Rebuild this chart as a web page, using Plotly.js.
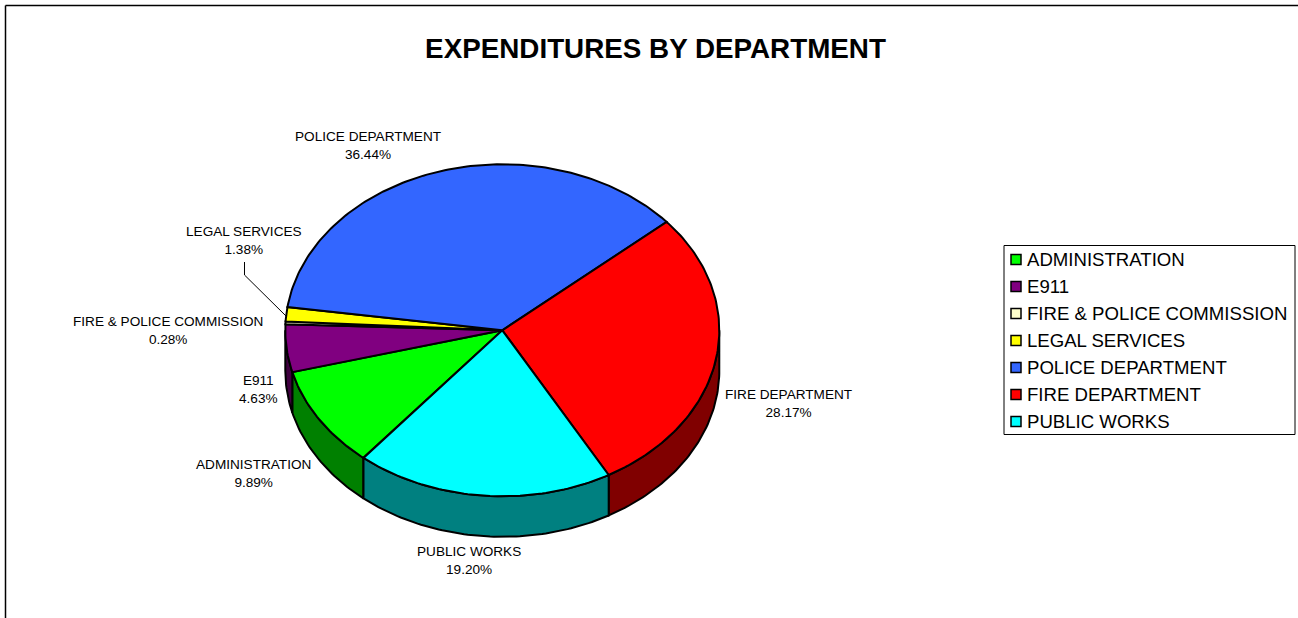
<!DOCTYPE html>
<html>
<head>
<meta charset="utf-8">
<script src="https://cdn.plot.ly/plotly-3.0.1.min.js"></script>
<style>html,body{margin:0;padding:0;background:#fff}</style>
</head>
<body>
<div id="chart" style="width:1298px;height:618px"></div>
<script>
// Data
const categories = ["ADMINISTRATION","E911","FIRE & POLICE COMMISSION","LEGAL SERVICES","POLICE DEPARTMENT","FIRE DEPARTMENT","PUBLIC WORKS"];
const shares = [9.89,4.63,0.28,1.38,36.44,28.17,19.20];
const topColors = ["#00FF00","#800080","#FFFFCC","#FFFF00","#3366FF","#FF0000","#00FFFF"];
const sideColors = ["#008000","#400040","#808066","#808000","#1A3380","#800000","#008080"];
const labelX = [253,258,168,244,367.5,788.5,468.5];
const labelY = [473.5,389.5,330.5,240.5,145.5,403.5,560.5];

// Projection of the tilted pie onto the page (axes run in page units)
const cx = 502.3, cy = 330.3, rx = 217, ry = 166, depth = 40.5, startDeg = 219.8;
const px = a => cx + rx * Math.sin(a * Math.PI / 180);
const py = a => cy - ry * Math.cos(a * Math.PI / 180);

function arc(a0, a1) {
  const n = Math.max(2, Math.ceil(Math.abs(a1 - a0)));
  const out = [];
  for (let i = 0; i <= n; i++) out.push(a0 + (a1 - a0) * i / n);
  return out;
}

const traces = [];
let a = startDeg;
const spans = shares.map(s => { const r = [a, a + s * 3.6]; a = r[1]; return r; });

// Side walls: only the part of the rim that faces the viewer (90..270 deg, mod 360)
spans.forEach((sp, i) => {
  [[90, 270], [450, 630]].forEach(win => {
    const s = Math.max(sp[0], win[0]), e = Math.min(sp[1], win[1]);
    if (e <= s) return;
    const t = arc(s, e);
    const xs = t.map(px).concat(t.slice().reverse().map(px));
    const ys = t.map(py).concat(t.slice().reverse().map(v => py(v) + depth));
    xs.push(xs[0]); ys.push(ys[0]);
    traces.push({type:"scatter", mode:"lines", x:xs, y:ys, fill:"toself", fillcolor:sideColors[i],
      line:{color:"#000", width:2}, showlegend:false, hoverinfo:"skip"});
  });
});

// Top faces
spans.forEach((sp, i) => {
  const t = arc(sp[0], sp[1]);
  const xs = [cx].concat(t.map(px), [cx]);
  const ys = [cy].concat(t.map(py), [cy]);
  traces.push({type:"scatter", mode:"lines", x:xs, y:ys, fill:"toself", fillcolor:topColors[i],
    line:{color:"#000", width:2}, name:categories[i], showlegend:false,
    hoverinfo:"text", text:categories[i] + " " + shares[i].toFixed(2) + "%", hoveron:"fills"});
});

// Legend
const legendLeft = 1004, legendTop = 245.5, legendBottom = 434.5, legendRight = 1295;
const rowY = categories.map((c, i) => 259.5 + i * 27);
traces.push({type:"scatter", mode:"markers", x:categories.map(() => 1016), y:rowY,
  marker:{symbol:"square", size:10, color:topColors, line:{color:"#000", width:1.5}},
  showlegend:false, hoverinfo:"skip"});

const annotations = [];
categories.forEach((c, i) => {
  annotations.push({x:labelX[i], y:labelY[i], xref:"x", yref:"y", showarrow:false,
    text:c + "<br>" + shares[i].toFixed(2) + "%", align:"center", xanchor:"center", yanchor:"middle",
    font:{family:"Liberation Sans, Arial, sans-serif", size:13.6, color:"#000"}});
  annotations.push({x:1027, y:rowY[i], xref:"x", yref:"y", showarrow:false, text:c,
    xanchor:"left", yanchor:"middle", xshift:-2, align:"left",
    font:{family:"Liberation Sans, Arial, sans-serif", size:18.6, color:"#000"}});
});

const shapes = [
  {type:"line", xref:"x", yref:"y", x0:5.5, x1:1298, y0:5.5, y1:5.5, line:{color:"#000", width:1.5}},
  {type:"line", xref:"x", yref:"y", x0:5.5, x1:5.5, y0:5.5, y1:618, line:{color:"#000", width:1.5}},
  {type:"rect", xref:"x", yref:"y", x0:legendLeft, x1:legendRight, y0:legendTop, y1:legendBottom,
    line:{color:"#000", width:1}, fillcolor:"rgba(0,0,0,0)"},
  {type:"path", xref:"x", yref:"y", path:"M244.5,262 L244.5,275 L286,316", line:{color:"#000", width:1}}
];

const layout = {
  width:1298, height:618, autosize:false,
  margin:{l:0, r:0, t:0, b:0},
  paper_bgcolor:"#fff", plot_bgcolor:"#fff",
  xaxis:{range:[0,1298], visible:false, fixedrange:true},
  yaxis:{range:[618,0], visible:false, fixedrange:true},
  title:{text:"<b>EXPENDITURES BY DEPARTMENT</b>", x:655.5/1298, xanchor:"center", y:1-48/618, yanchor:"middle",
    font:{family:"Liberation Sans, Arial, sans-serif", size:27.8, color:"#000"}},
  showlegend:false, annotations, shapes
};
Plotly.newPlot("chart", traces, layout, {displayModeBar:false, staticPlot:false});
</script>
</body>
</html>
